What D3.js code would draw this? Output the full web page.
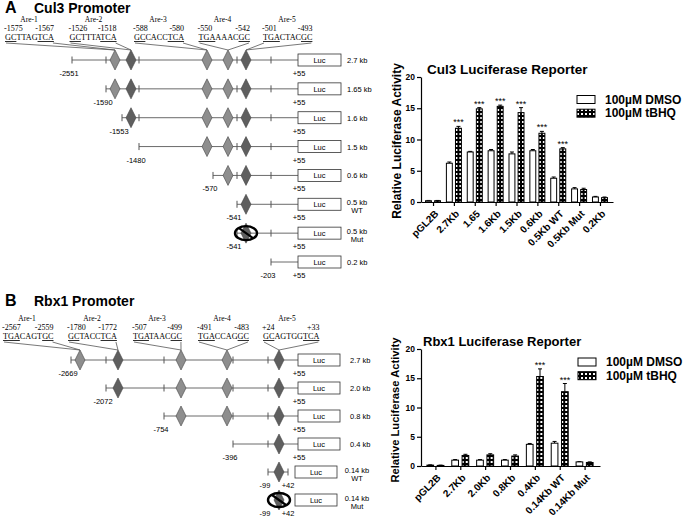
<!DOCTYPE html>
<html lang="en">
<head>
<meta charset="utf-8">
<title>Cul3 / Rbx1 promoter reporters</title>
<script src="https://d3js.org/d3.v7.min.js"></script>
<style>
  body { margin: 0; background: #fff; }
  svg { display: block; -webkit-font-smoothing: antialiased; }
  text { font-family: "Liberation Sans", Arial, sans-serif; fill: #000; }
  .serif { font-family: "Liberation Serif", "Times New Roman", serif; }
  .bold { font-weight: bold; }
</style>
</head>
<body>
<div id="chart"></div>
<script>
// ---------- A: Cul3 promoter constructs
var cul3Sizes   = [["2.7 kb"], ["1.65 kb"], ["1.6 kb"], ["1.5 kb"], ["0.6 kb"], ["0.5 kb", "WT"], ["0.5 kb", "Mut"], ["0.2 kb"]];
var cul3Starts  = [-2551, -1590, -1553, -1480, -570, -541, -541, -203];
var cul3Ends    = [55, 55, 55, 55, 55, 55, 55, 55];
var cul3Mutant  = [false, false, false, false, false, false, true, false];
var cul3Line    = [true, true, true, true, true, true, true, true];
var cul3Marks   = [-1590, -1480, -541, -203];
var cul3AreName = ["Are-1", "Are-2", "Are-3", "Are-4", "Are-5"];
var cul3AreFrom = [-1575, -1526, -588, -550, -501];
var cul3AreTo   = [-1567, -1518, -580, -542, -493];
var cul3AreSeq  = [["GC", "TTAG", "TCA"], ["GC", "TTTA", "TCA"], ["GC", "CACC", "TCA"], ["TGA", "AAAC", "GC"], ["TGA", "CTAC", "GC"]];

// ---------- B: Rbx1 promoter constructs
var rbx1Sizes   = [["2.7 kb"], ["2.0 kb"], ["0.8 kb"], ["0.4 kb"], ["0.14 kb", "WT"], ["0.14 kb", "Mut"]];
var rbx1Starts  = [-2669, -2072, -754, -396, -99, -99];
var rbx1Ends    = [55, 55, 55, 55, 42, 42];
var rbx1Mutant  = [false, false, false, false, false, true];
var rbx1Line    = [true, true, true, true, true, false];
var rbx1Marks   = [-2072, -754, -396, -99];
var rbx1AreName = ["Are-1", "Are-2", "Are-3", "Are-4", "Are-5"];
var rbx1AreFrom = [-2567, -1780, -507, -491, 24];
var rbx1AreTo   = [-2559, -1772, -499, -483, 33];
var rbx1AreSeq  = [["TGA", "CAGT", "GC"], ["GC", "TACC", "TCA"], ["TGA", "TAAC", "GC"], ["TGA", "CCAG", "GC"], ["GC", "AGTGG", "TCA"]];

// ---------- luciferase bar charts
var cul3Cats    = ["pGL2B", "2.7Kb", "1.65", "1.6Kb", "1.5Kb", "0.6Kb", "0.5Kb WT", "0.5Kb Mut", "0.2Kb"];
var cul3Dmso    = [0.2, 6.2, 8.0, 8.2, 7.7, 8.2, 3.8, 2.1, 0.8];
var cul3DmsoErr = [0.05, 0.2, 0.1, 0.2, 0.3, 0.2, 0.2, 0.2, 0.1];
var cul3Tbhq    = [0.2, 11.8, 14.9, 15.3, 14.3, 11.0, 8.5, 2.0, 0.7];
var cul3TbhqErr = [0.05, 0.3, 0.2, 0.2, 0.8, 0.3, 0.2, 0.2, 0.1];
var cul3Sig     = ["", "***", "***", "***", "***", "***", "***", "", ""];

var rbx1Cats    = ["pGL2B", "2.7Kb", "2.0Kb", "0.8Kb", "0.4Kb", "0.14Kb WT", "0.14Kb Mut"];
var rbx1Dmso    = [0.15, 1.0, 1.0, 1.0, 3.7, 3.9, 0.7];
var rbx1DmsoErr = [0.05, 0.1, 0.1, 0.1, 0.15, 0.3, 0.05];
var rbx1Tbhq    = [0.1, 1.8, 1.9, 1.7, 15.3, 12.7, 0.6];
var rbx1TbhqErr = [0.05, 0.2, 0.2, 0.2, 1.3, 1.4, 0.1];
var rbx1Sig     = ["", "", "", "", "***", "***", ""];

var yTicks = [0, 5, 10, 15, 20];
var seriesNames = ["100\u00b5M DMSO", "100\u00b5M tBHQ"];

var areShade = ["#8e8e8e", "#5f5f5f", "#8e8e8e", "#8e8e8e", "#5f5f5f"];

var svg = d3.select("#chart").append("svg")
	.attr("width", 685)
	.attr("height", 517);

svg.append("rect").attr("width", 685).attr("height", 517).attr("fill", "#fff");

var pat = svg.append("defs").append("pattern")
	.attr("id", "checker")
	.attr("patternUnits", "userSpaceOnUse")
	.attr("width", 4).attr("height", 4);
pat.append("rect").attr("width", 4).attr("height", 4).attr("fill", "#000");
pat.append("rect").attr("x", 1).attr("y", 1).attr("width", 2).attr("height", 2).attr("fill", "#fff");

// panel headings
function heading(letter, title, y) {
	svg.append("text").attr("class", "bold").attr("x", 5).attr("y", y)
		.style("font-size", "16px").text(letter);
	svg.append("text").attr("class", "bold").attr("x", 34).attr("y", y)
		.style("font-size", "14px").text(title);
}
heading("A", "Cul3 Promoter", 13);
heading("B", "Rbx1 Promoter", 306);

function fmtPos(d) { return d > 0 ? "+" + d : "" + d; }

function drawPromoter(c) {
	var g = svg.append("g");
	// schematic (not to scale) position scale, piecewise
	var xs = d3.scaleLinear().domain(c.knots).range(c.knotX);
	var rows = d3.scalePoint().domain(d3.range(c.starts.length)).range(c.rowRange);
	var cols = d3.scalePoint().domain(c.names).range(c.colRange);
	var centers = c.from.map(function(f, i) { return (f + c.to[i]) / 2; });
	var top = rows(0) - 10;

	// ARE headers
	c.names.forEach(function(name, i) {
		var x0 = cols(name);
		g.append("text").attr("class", "serif").attr("x", x0 + 24).attr("y", c.headY)
			.attr("text-anchor", "middle").style("font-size", "7.5px").text(name);
		g.append("text").attr("class", "serif").attr("x", x0 - 1).attr("y", c.headY + 9)
			.style("font-size", "8px").text(fmtPos(c.from[i]));
		var t = g.append("text").attr("class", "serif").attr("x", x0).attr("y", c.headY + 18)
			.style("font-size", "8.2px");
		c.seq[i].forEach(function(part, k) {
			t.append("tspan").text(part)
				.style("text-decoration", k === 1 ? "none" : "underline");
		});
		var len = t.node().getComputedTextLength();
		g.append("text").attr("class", "serif").attr("x", x0 + len).attr("y", c.headY + 9)
			.attr("text-anchor", "end").style("font-size", "8px").text(fmtPos(c.to[i]));
		[x0 + 1, x0 + len - 1].forEach(function(sx) {
			g.append("line")
				.attr("x1", sx).attr("y1", c.headY + 21)
				.attr("x2", xs(centers[i])).attr("y2", top)
				.attr("stroke", "#555").attr("stroke-width", 0.8);
		});
	});

	c.starts.forEach(function(s, i) {
		var y = rows(i), e = c.ends[i];
		var boxX = e === 55 ? xs(55) : xs(55) - 3;
		var lineEnd = e === 55 ? xs(55) : xs(e);
		if (c.line[i]) {
			g.append("line").attr("x1", xs(s)).attr("x2", lineEnd).attr("y1", y).attr("y2", y)
				.attr("stroke", "#6a6a6a").attr("stroke-width", 1);
			var ticks = [s].concat(c.marks.filter(function(m) { return m > s && m < e; }));
			if (e !== 55) ticks.push(e);
			ticks.forEach(function(m) {
				g.append("line").attr("x1", xs(m)).attr("x2", xs(m)).attr("y1", y - 3.5).attr("y2", y + 3.5)
					.attr("stroke", "#555").attr("stroke-width", 1);
			});
		}
		centers.forEach(function(ct, k) {
			if (ct <= s || ct >= e) return;
			var cx = xs(ct);
			g.append("path")
				.attr("d", "M" + cx + "," + (y - 10) + "L" + (cx + 5) + "," + y + "L" + cx + "," + (y + 10) + "L" + (cx - 5) + "," + y + "Z")
				.attr("fill", areShade[k]).attr("stroke", "#444").attr("stroke-width", 0.6);
			if (c.mutant[i]) {
				g.append("ellipse").attr("cx", cx).attr("cy", y).attr("rx", 11).attr("ry", 7)
					.attr("fill", "none").attr("stroke", "#000").attr("stroke-width", 2.4);
				g.append("line").attr("x1", cx - 7).attr("y1", y - 5).attr("x2", cx + 7).attr("y2", y + 5)
					.attr("stroke", "#000").attr("stroke-width", 2.2);
			}
		});
		// luciferase box
		g.append("rect").attr("x", boxX).attr("y", y - 6).attr("width", c.boxW).attr("height", 12)
			.attr("fill", "#fff").attr("stroke", "#333").attr("stroke-width", 0.8);
		g.append("text").attr("x", boxX + c.boxW / 2).attr("y", y + 3).attr("text-anchor", "middle")
			.style("font-size", "7.5px").text("Luc");
		// position labels
		g.append("text").attr("x", xs(s) - 3).attr("y", y + 16).attr("text-anchor", "middle")
			.style("font-size", "7.5px").text(fmtPos(s));
		g.append("text").attr("x", e === 55 ? boxX + 1 : xs(e)).attr("y", y + 16).attr("text-anchor", "middle")
			.style("font-size", "7.5px").text(fmtPos(e));
		// size label
		var lab = c.sizes[i];
		if (lab.length === 1) {
			g.append("text").attr("x", c.sizeX).attr("y", y + 3).style("font-size", "7.5px").text(lab[0]);
		} else {
			lab.forEach(function(l, k) {
				g.append("text").attr("x", 357).attr("y", y + 0.5 + k * 8.5).attr("text-anchor", "middle")
					.style("font-size", "7.5px").text(l);
			});
		}
	});
}

drawPromoter({
	sizes: cul3Sizes, starts: cul3Starts, ends: cul3Ends, mutant: cul3Mutant, line: cul3Line,
	marks: cul3Marks, names: cul3AreName, from: cul3AreFrom, to: cul3AreTo, seq: cul3AreSeq,
	knots: [-2551, -1590, -1571, -1553, -1522, -1480, -584, -570, -546, -541, -497, -203, 55],
	knotX: [72, 106, 115, 122, 131, 139, 207, 213, 228, 237, 246, 271, 298],
	rowRange: [60, 262], colRange: [5, 263], headY: 22, boxW: 43, sizeX: 347
});

drawPromoter({
	sizes: rbx1Sizes, starts: rbx1Starts, ends: rbx1Ends, mutant: rbx1Mutant, line: rbx1Line,
	marks: rbx1Marks, names: rbx1AreName, from: rbx1AreFrom, to: rbx1AreTo, seq: rbx1AreSeq,
	knots: [-2669, -2563, -2072, -1776, -754, -503, -487, -396, -99, 28.5, 42, 55],
	knotX: [71, 80, 106, 118, 164, 181, 227, 233, 268, 279, 288, 298],
	rowRange: [360, 500], colRange: [3, 263], headY: 321, boxW: 42, sizeX: 350
});

function drawBars(c) {
	var g = svg.append("g");
	var x = d3.scaleBand().domain(c.cats).range(c.xRange).paddingOuter(0.1);
	var x1 = d3.scaleBand().domain([0, 1]).range(c.subRange).paddingInner(0.35);
	var y = d3.scaleLinear().domain([0, 20]).range(c.yRange);

	var rows = c.cats.map(function(cat, i) {
		return { cat: cat, vals: [c.dmso[i], c.tbhq[i]], errs: [c.dmsoErr[i], c.tbhqErr[i]], sig: c.sig[i] };
	});

	var grp = g.selectAll("g.grp").data(rows).enter().append("g")
		.attr("transform", function(d) { return "translate(" + (x(d.cat) + x.bandwidth() / 2) + ",0)"; });

	[0, 1].forEach(function(s) {
		grp.append("line")
			.attr("x1", x1(s) + x1.bandwidth() / 2).attr("x2", x1(s) + x1.bandwidth() / 2)
			.attr("y1", function(d) { return y(d.vals[s]); })
			.attr("y2", function(d) { return y(d.vals[s] + d.errs[s]); })
			.attr("stroke", "#000").attr("stroke-width", 1);
		grp.append("line")
			.attr("x1", x1(s) + x1.bandwidth() / 2 - 2).attr("x2", x1(s) + x1.bandwidth() / 2 + 2)
			.attr("y1", function(d) { return y(d.vals[s] + d.errs[s]); })
			.attr("y2", function(d) { return y(d.vals[s] + d.errs[s]); })
			.attr("stroke", "#000").attr("stroke-width", 1);
		grp.append("rect")
			.attr("x", x1(s)).attr("width", x1.bandwidth())
			.attr("y", function(d) { return y(d.vals[s]); })
			.attr("height", function(d) { return y(0) - y(d.vals[s]); })
			.attr("fill", s === 0 ? "#fff" : "url(#checker)")
			.attr("stroke", "#000").attr("stroke-width", 1);
	});

	grp.append("text")
		.attr("x", x1(1) + x1.bandwidth() / 2)
		.attr("y", function(d) { return y(d.vals[1] + d.errs[1]) - 1; })
		.attr("text-anchor", "middle").style("font-size", "9px")
		.text(function(d) { return d.sig; });

	var ya = g.append("g").attr("transform", "translate(" + c.xRange[0] + ",0)")
		.call(d3.axisLeft(y).tickValues(yTicks).tickSize(4).tickSizeOuter(0).tickPadding(2));
	var xa = g.append("g").attr("transform", "translate(0," + y(0) + ")")
		.call(d3.axisBottom(x).tickSize(4).tickSizeOuter(0));
	[ya, xa].forEach(function(a) {
		a.select(".domain").attr("stroke", "#000").attr("stroke-width", 1.2);
		a.selectAll(".tick line").attr("stroke", "#000").attr("stroke-width", 1.2);
		a.selectAll("text").attr("class", "bold").attr("font-family", null).attr("fill", "#000");
	});
	ya.selectAll("text").style("font-size", "8.5px");
	xa.selectAll("text").style("font-size", "10px")
		.attr("y", 0).attr("dy", "0.35em").attr("text-anchor", "end")
		.attr("transform", "translate(3,10) rotate(-45)");

	g.append("text").attr("class", "bold").attr("x", c.title[0]).attr("y", c.title[1])
		.style("font-size", c.title[2] + "px").text(c.titleText);
	g.append("text").attr("class", "bold").attr("text-anchor", "middle")
		.attr("transform", "translate(" + c.ylab[0] + "," + c.ylab[1] + ") rotate(-90)")
		.style("font-size", c.ylab[2] + "px").text("Relative Luciferase Activity");

	seriesNames.forEach(function(name, i) {
		var ly = c.legend[1] + i * 13.7;
		g.append("rect").attr("x", c.legend[0]).attr("y", ly).attr("width", 18).attr("height", 8)
			.attr("fill", i === 0 ? "#fff" : "url(#checker)").attr("stroke", "#000").attr("stroke-width", 1);
		g.append("text").attr("class", "bold").attr("x", c.legend[0] + 28).attr("y", ly + 8)
			.style("font-size", "12px").text(name);
	});
}

drawBars({
	cats: cul3Cats, dmso: cul3Dmso, dmsoErr: cul3DmsoErr, tbhq: cul3Tbhq, tbhqErr: cul3TbhqErr, sig: cul3Sig,
	xRange: [421, 613], subRange: [-8, 7], yRange: [202, 77],
	titleText: "Cul3 Luciferase Reporter", title: [427, 74, 13.5],
	ylab: [401, 141, 12], legend: [577, 95.5]
});

drawBars({
	cats: rbx1Cats, dmso: rbx1Dmso, dmsoErr: rbx1DmsoErr, tbhq: rbx1Tbhq, tbhqErr: rbx1TbhqErr, sig: rbx1Sig,
	xRange: [421, 600], subRange: [-9, 8], yRange: [466, 349],
	titleText: "Rbx1 Luciferase Reporter", title: [423, 346, 13],
	ylab: [399, 410, 11.2], legend: [578, 358]
});
</script>
</body>
</html>
